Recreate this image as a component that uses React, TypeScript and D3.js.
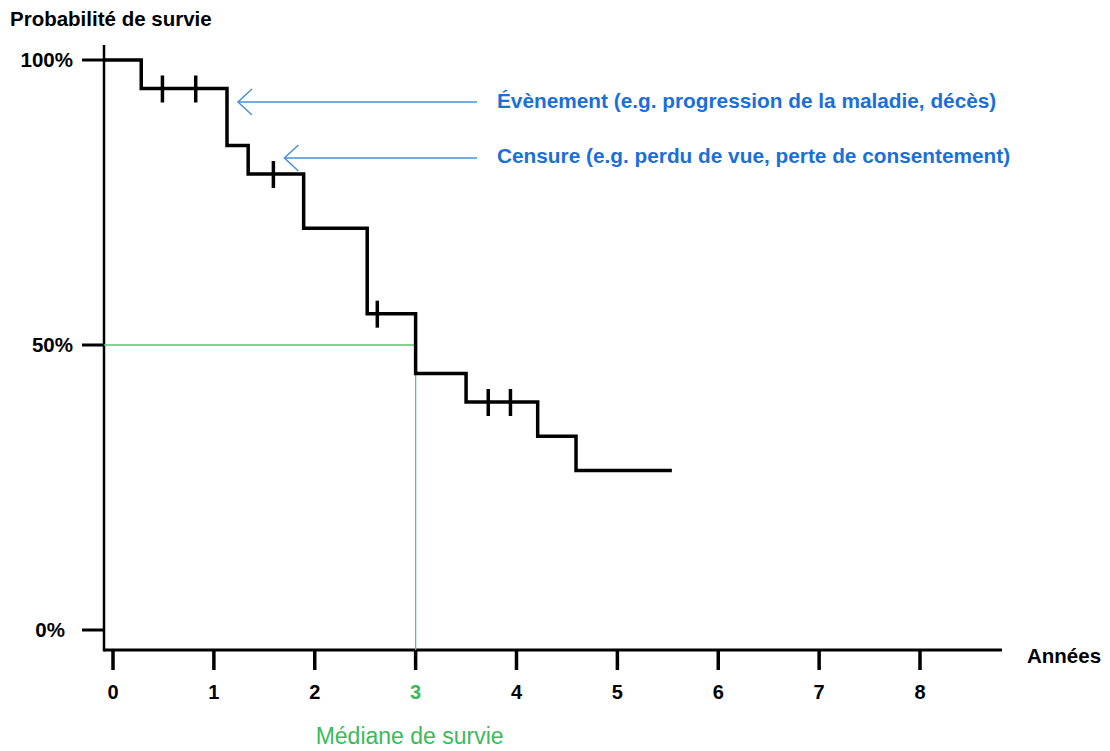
import * as d3 from "d3"
import { useEffect, useRef } from "react"

const W = 1110
const H = 751
const FONT = "'Liberation Sans', Arial, sans-serif"

// Kaplan-Meier style curve (time in years, survival in %)
const eventTimes = [0.28, 1.13, 1.34, 1.89, 2.52, 3.0, 3.5, 4.21, 4.59]
const survivalAfter = [95, 85, 80, 70.5, 55.5, 45, 40, 34, 28]
const censorTimes = [0.49, 0.82, 1.59, 2.62, 3.72, 3.94]
const followUpEnd = 5.54

const xTicks = [0, 1, 2, 3, 4, 5, 6, 7, 8]
const yTicks = [0, 50, 100]
const yTickLabels = ["0%", "50%", "100%"]

const medianSurvival = 3
const medianLevel = 50

const yTitle = "Probabilité de survie"
const xTitle = "Années"
const medianTitle = "Médiane de survie"
const eventNote = "Évènement (e.g. progression de la maladie, décès)"
const censorNote = "Censure (e.g. perdu de vue, perte de consentement)"

const BLUE_TEXT = "#1b6fd9"
const BLUE_ARROW = "#4a8fdb"
const GREEN = "#5cc46e"
const GREEN_TEXT = "#3cb95b"

export default function App() {
  const svgRef = useRef<SVGSVGElement | null>(null)

  useEffect(() => {
    if (!svgRef.current) return
    const svg = d3.select(svgRef.current)
    svg.selectAll("*").remove()

    const x = d3.scaleLinear().domain([0, 8]).range([113, 920])
    const y = d3.scaleLinear().domain([0, 100]).range([630, 60])

    const xStart = x.invert(104)
    const xEnd = x.invert(1002)
    const axisY = 650

    const survivalAt = (t: number) => {
      let s = 100
      eventTimes.forEach((e, i) => {
        if (e <= t) s = survivalAfter[i]
      })
      return s
    }

    // y axis
    svg
      .append("line")
      .attr("x1", x(xStart))
      .attr("x2", x(xStart))
      .attr("y1", 45)
      .attr("y2", axisY + 1.5)
      .attr("stroke", "#000")
      .attr("stroke-width", 2.5)

    svg
      .append("g")
      .selectAll("line")
      .data(yTicks)
      .enter()
      .append("line")
      .attr("x1", 82)
      .attr("x2", x(xStart))
      .attr("y1", (d) => y(d))
      .attr("y2", (d) => y(d))
      .attr("stroke", "#000")
      .attr("stroke-width", 3)

    svg
      .append("g")
      .selectAll("text")
      .data(yTicks)
      .enter()
      .append("text")
      .attr("x", (d) => (d === 0 ? 65 : 73))
      .attr("y", (d) => y(d) + 7)
      .attr("text-anchor", "end")
      .style("font-family", FONT)
      .style("font-weight", "bold")
      .style("font-size", "20.5px")
      .text((d, i) => yTickLabels[i])

    // x axis
    svg
      .append("line")
      .attr("x1", x(xStart))
      .attr("x2", x(xEnd))
      .attr("y1", axisY)
      .attr("y2", axisY)
      .attr("stroke", "#000")
      .attr("stroke-width", 3)

    svg
      .append("g")
      .selectAll("line")
      .data(xTicks)
      .enter()
      .append("line")
      .attr("x1", (d) => x(d))
      .attr("x2", (d) => x(d))
      .attr("y1", axisY)
      .attr("y2", axisY + 20)
      .attr("stroke", "#000")
      .attr("stroke-width", 3.5)

    svg
      .append("g")
      .selectAll("text")
      .data(xTicks)
      .enter()
      .append("text")
      .attr("x", (d) => x(d))
      .attr("y", 699)
      .attr("text-anchor", "middle")
      .style("font-family", FONT)
      .style("font-weight", "bold")
      .style("font-size", "20px")
      .style("fill", (d) => (d === medianSurvival ? GREEN_TEXT : "#000"))
      .text((d) => String(d))

    // titles
    svg
      .append("text")
      .attr("x", 10)
      .attr("y", 26)
      .style("font-family", FONT)
      .style("font-weight", "bold")
      .style("font-size", "20.5px")
      .text(yTitle)

    svg
      .append("text")
      .attr("x", 1027)
      .attr("y", 663)
      .style("font-family", FONT)
      .style("font-weight", "bold")
      .style("font-size", "20.5px")
      .text(xTitle)

    // median guide lines
    svg
      .append("path")
      .attr("d", `M${x(xStart)},${y(medianLevel)}H${x(medianSurvival)}V${axisY}`)
      .attr("fill", "none")
      .attr("stroke", GREEN)
      .attr("stroke-width", 1.3)

    svg
      .append("text")
      .attr("x", x(medianSurvival) - 6)
      .attr("y", 744)
      .attr("text-anchor", "middle")
      .style("font-family", FONT)
      .style("font-size", "23px")
      .style("fill", GREEN_TEXT)
      .text(medianTitle)

    // survival curve
    const points: [number, number][] = [[xStart, 100]]
    eventTimes.forEach((t, i) => points.push([t, survivalAfter[i]]))
    points.push([followUpEnd, survivalAfter[survivalAfter.length - 1]])

    const line = d3
      .line<[number, number]>()
      .x((d) => x(d[0]))
      .y((d) => y(d[1]))
      .curve(d3.curveStepAfter)

    svg
      .append("path")
      .datum(points)
      .attr("d", line)
      .attr("fill", "none")
      .attr("stroke", "#000")
      .attr("stroke-width", 3.5)
      .attr("stroke-linejoin", "miter")

    // censor marks
    svg
      .append("g")
      .selectAll("line")
      .data(censorTimes)
      .enter()
      .append("line")
      .attr("x1", (d) => x(d))
      .attr("x2", (d) => x(d))
      .attr("y1", (d) => y(survivalAt(d)) - 13)
      .attr("y2", (d) => y(survivalAt(d)) + 14)
      .attr("stroke", "#000")
      .attr("stroke-width", 3.5)

    // annotations with arrows
    const notes = [
      { text: eventNote, tip: x(1.13) + 11, ay: 102, base: 108 },
      { text: censorNote, tip: x(censorTimes[2]) + 11, ay: 158, base: 163 },
    ]
    notes.forEach((n) => {
      const g = svg.append("g")
      g.append("line")
        .attr("x1", n.tip)
        .attr("x2", 477)
        .attr("y1", n.ay)
        .attr("y2", n.ay)
        .attr("stroke", BLUE_ARROW)
        .attr("stroke-width", 1.5)
      g.append("path")
        .attr("d", `M${n.tip + 14},${n.ay - 13}L${n.tip},${n.ay}L${n.tip + 14},${n.ay + 13}`)
        .attr("fill", "none")
        .attr("stroke", BLUE_ARROW)
        .attr("stroke-width", 1.5)
      g.append("text")
        .attr("x", 497)
        .attr("y", n.base)
        .style("font-family", FONT)
        .style("font-weight", "bold")
        .style("font-size", "20.8px")
        .style("fill", BLUE_TEXT)
        .text(n.text)
    })
  }, [])

  return (
    <svg
      ref={svgRef}
      width={W}
      height={H}
      style={{ position: "absolute", left: 0, top: 0, background: "#fff" }}
      xmlns="http://www.w3.org/2000/svg"
    />
  )
}
